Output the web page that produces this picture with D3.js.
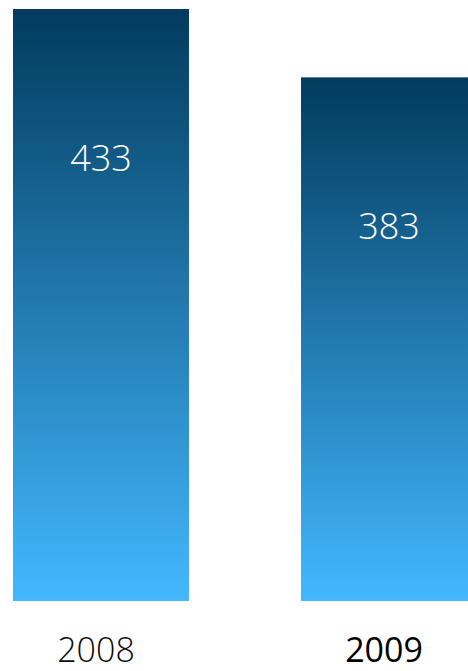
<!DOCTYPE html>
<html>
<head>
<meta charset="utf-8">
<script src="https://cdn.jsdelivr.net/npm/d3@7"></script>
<style>
  html, body { margin: 0; padding: 0; background: #fff; }
  svg { display: block; }
</style>
</head>
<body>
<svg id="chart" width="468" height="671"></svg>
<script>
const years = ["2008", "2009"];
const values = [433, 383];
const yearWeights = [300, 400];
const yearColors = ["#0d0d0d", "#000000"];

let svg = d3.select("#chart"),
    width = 468,
    height = 671,
    margin = {top: 9, bottom: 70, left: 13};

let xScale = d3.scaleBand()
    .domain(years)
    .range([margin.left, 477])
    .paddingInner(0.389)
    .paddingOuter(0);

let yScale = d3.scaleLinear()
    .domain([0, d3.max(values)])
    .range([height - margin.bottom, margin.top]);

// vertical gradient, dark navy at top to light blue at bottom
let grad = svg.append("defs").append("linearGradient")
    .attr("id", "barGrad")
    .attr("x1", 0).attr("y1", 0)
    .attr("x2", 0).attr("y2", 1);
grad.append("stop").attr("offset", "0%").attr("stop-color", "#023b5e");
grad.append("stop").attr("offset", "100%").attr("stop-color", "#43b8ff");

let rows = years.map((y, i) => ({year: y, value: values[i], i: i}));

svg.selectAll(".bar")
    .data(rows)
    .enter()
    .append("rect")
    .attr("class", "bar")
    .attr("x", d => xScale(d.year))
    .attr("y", d => yScale(d.value))
    .attr("width", xScale.bandwidth())
    .attr("height", d => yScale(0) - yScale(d.value))
    .attr("fill", "url(#barGrad)");

// value labels inside bars
svg.selectAll(".val")
    .data(rows)
    .enter()
    .append("text")
    .attr("class", "val")
    .attr("x", d => xScale(d.year) + xScale.bandwidth() / 2)
    .attr("y", d => yScale(d.value) + 162)
    .attr("text-anchor", "middle")
    .attr("fill", "#ffffff")
    .style("font-family", "'Open Sans', sans-serif")
    .style("font-weight", 300)
    .style("font-size", "36px")
    .text(d => d.value);

// year labels under bars
let xAxis = d3.axisBottom(xScale).tickSize(0).tickPadding(0);
let gx = svg.append("g")
    .attr("transform", `translate(0,${height - margin.bottom})`)
    .call(xAxis);
gx.select(".domain").remove();
gx.selectAll("text")
    .attr("dy", null)
    .attr("y", 61)
    .attr("dx", -5)
    .style("font-family", "'Open Sans', sans-serif")
    .style("font-size", "34px")
    .style("font-weight", (d, i) => yearWeights[i])
    .attr("fill", (d, i) => yearColors[i]);
</script>
</body>
</html>
